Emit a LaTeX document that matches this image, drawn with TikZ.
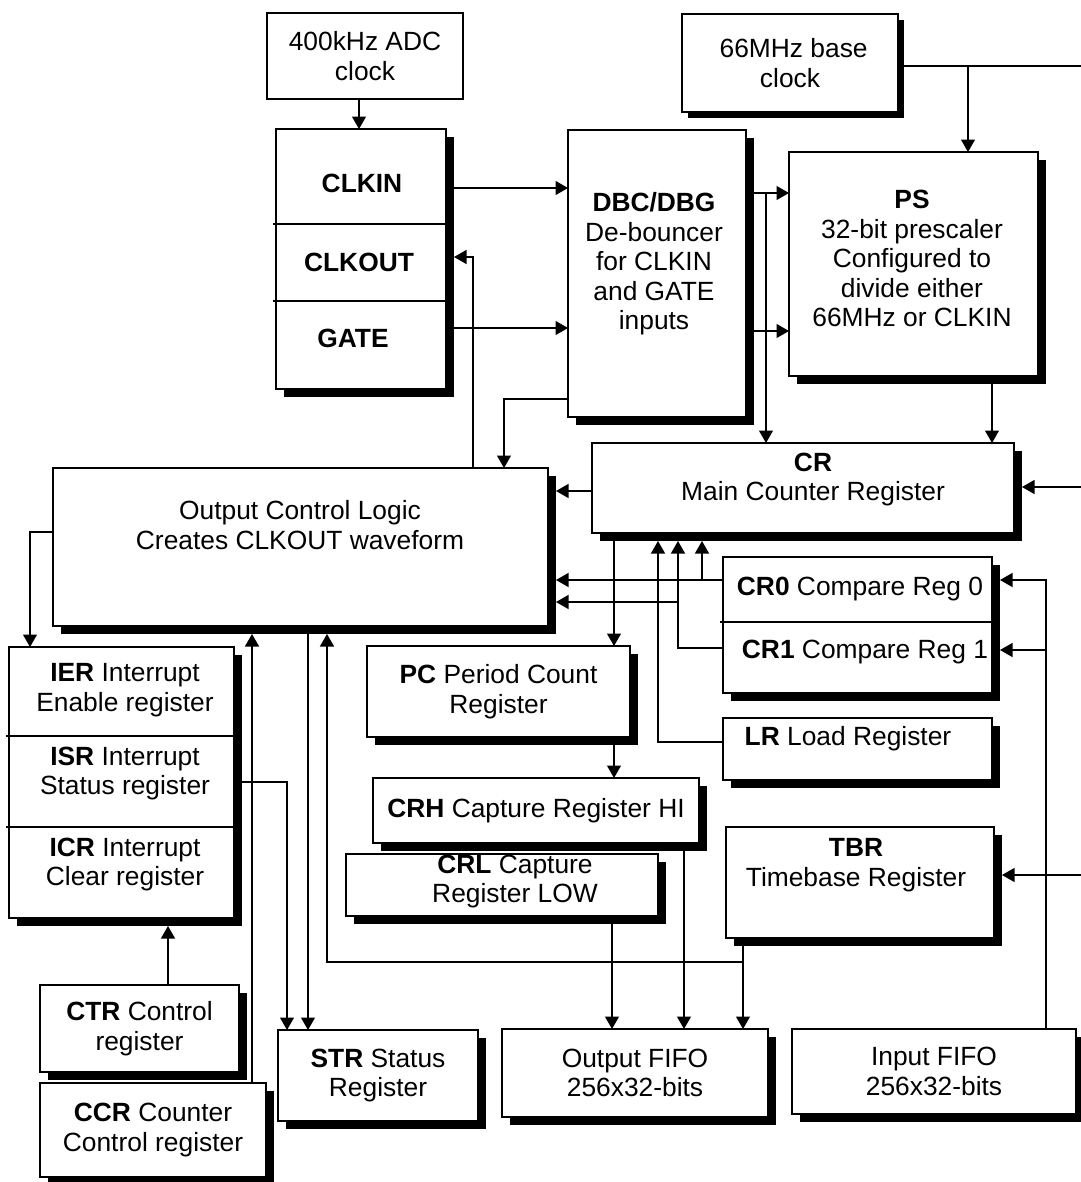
\documentclass[tikz,border=0pt]{standalone}
\usepackage{fontspec}
\setmainfont{Liberation Sans}
\usetikzlibrary{arrows.meta,shadows}

\begin{document}
\begin{tikzpicture}[x=0.2mm, y=-0.2mm, >={Triangle[length=2.5mm,width=2.8mm]},
  line width=0.7pt, font=\fontsize{15}{16.8}\selectfont,
  box/.style={draw, line width=0.9pt, fill=white, inner sep=0pt, outer sep=0pt, align=center,
    drop shadow={shadow xshift=#1, shadow yshift=-#1, opacity=1, fill=black}},
  box/.default=1.6mm,
  plain/.style={draw, line width=0.9pt, fill=white, inner sep=0pt, outer sep=0pt, align=center},
  sz/.style 2 args={minimum width=#1*0.2mm, minimum height=#2*0.2mm},
  txt/.style={inner sep=0pt, align=center},
  shad/.style={shorten >=1.6mm}]
  \useasboundingbox (0,0) rectangle (1081,1182);

  % clock inputs
  \node[plain, sz={196}{86}] (adc) at (365,56) {400kHz ADC\\clock};
  \node[box=1.1mm, sz={216}{98}] (mhz) at (790,63) {\ 66MHz base\\clock};
  \node[box, sz={170}{260}] (clk) at (361,259) {};
  \draw[line width=0.9pt] (clk.west |- 0,224) ++(-3,0) -- (clk.east |- 0,224);
  \draw[line width=0.9pt] (clk.west |- 0,301) ++(-3,0) -- (clk.east |- 0,301);
  \node[txt] (clkin) at (362,183) {\textbf{CLKIN}};
  \node[txt] (clkout) at (359,262) {\textbf{CLKOUT}};
  \node[txt] (gate) at (353,338) {\textbf{GATE}};
  \node[box, sz={178}{287}] (dbc) at (657,273.5) {};
  \node[txt] (dbc-t) at (654,264) {\textbf{DBC/DBG}\\De-bouncer\\for CLKIN\\and GATE\\inputs};
  \node[box, sz={249}{224}] (ps) at (913.5,264) {};
  \node[txt] (ps-t) at (912,258.5) {\textbf{PS}\\32-bit prescaler\\Configured to\\divide either\\66MHz or CLKIN};

  % counter and compare registers
  \node[box, sz={422}{90}] (cr) at (803,488) {};
  \node[txt] (cr-t) at (813,479.5) {\textbf{CR}\\Main Counter Register};
  \node[box, sz={495}{158}] (ocl) at (300.5,547) {};
  \node[txt] (ocl-t) at (300,525) {Output Control Logic\\Creates CLKOUT waveform};
  \node[box, sz={269}{136}] (cmp) at (857.5,625) {};
  \draw[line width=0.9pt] (cmp.west |- 0,622) ++(-3,0) -- (cmp.east |- 0,622);
  \node[txt] (cr0) at (860,589) {\textbf{CR0} Compare Reg 0};
  \node[txt] (cr1) at (865,652) {\textbf{CR1} Compare Reg 1};
  \node[box, sz={263}{91}] (pc) at (498.5,691.5) {\textbf{PC} Period Count\\Register};
  \node[box, sz={269}{62}] (lr) at (857.5,749) {};
  \node[txt] (lr-t) at (848,739) {\textbf{LR} Load Register};
  \node[box, sz={326}{65}] (crh) at (536,810.5) {\textbf{CRH} Capture Register HI};
  \node[box, sz={312}{62}] (crl) at (502,885) {};
  \node[txt] (crl-t) at (515,881.5) {\textbf{CRL} Capture\\Register LOW};
  \node[box, sz={268}{111}] (tbr) at (860,882.5) {};
  \node[txt] (tbr-t) at (856,865) {\textbf{TBR}\\Timebase Register};

  % interrupt and control registers
  \node[box, sz={225}{271}] (ier) at (121.5,782.5) {};
  \draw[line width=0.9pt] (ier.west |- 0,736) ++(-3,0) -- (ier.east |- 0,736);
  \draw[line width=0.9pt] (ier.west |- 0,827) ++(-3,0) -- (ier.east |- 0,827);
  \node[txt] (ier-t) at (125,690) {\textbf{IER} Interrupt\\Enable register};
  \node[txt] (isr-t) at (125,773.5) {\textbf{ISR} Interrupt\\Status register};
  \node[txt] (icr-t) at (125,864.5) {\textbf{ICR} Interrupt\\Clear register};
  \node[box, sz={199}{87}] (ctr) at (139.5,1028.5) {\textbf{CTR} Control\\register};
  \node[box, sz={226}{94}] (ccr) at (153,1130) {\textbf{CCR} Counter\\Control register};
  \node[box, sz={200}{91}] (str) at (378,1075.5) {\textbf{STR} Status\\Register};
  \node[box, sz={266}{88}] (ofifo) at (635,1073) {Output FIFO\\256x32-bits};
  \node[box, sz={284}{85}] (ififo) at (934,1071.5) {Input FIFO\\256x32-bits};

  % free ends and junctions
  \coordinate (bus-top) at (1081,66);
  \coordinate (bus-cr) at (1081,487);
  \coordinate (bus-tbr) at (1081,875);
  \coordinate (j-mhz) at (968,66);
  \coordinate (j-dbc) at (766,193);
  \coordinate (j-cr0) at (702,580);
  \coordinate (j-cr1) at (678,602);
  \coordinate (j-fifo) at (1046,650);
  \coordinate (j-tbr) at (743,962);

  % connectors
  \draw[->] (adc.south -| 359,0) -- (clk.north -| 359,0);
  \draw[->] (clk.east |- 0,188) -- (dbc.west |- 0,188);
  \draw[->] (clk.east |- 0,328) -- (dbc.west |- 0,328);
  \draw[->, shad] (ocl.north -| 473,0) |- (clk.east |- 0,257);
  \draw[->] (dbc.west |- 0,399) -| (ocl.north -| 504,0);
  \draw (mhz.east |- bus-top) -- (bus-top);
  \draw[->] (j-mhz) -- (ps.north -| j-mhz);
  \draw[->] (dbc.east |- 0,193) -- (ps.west |- 0,193);
  \draw[->] (dbc.east |- 0,331) -- (ps.west |- 0,331);
  \draw[->] (j-dbc) -- (cr.north -| j-dbc);
  \draw[->] (ps.south -| 992,0) -- (cr.north -| 992,0);
  \draw[->, shad] (bus-cr) -- (cr.east |- bus-cr);
  \draw[->, shad] (cr.west |- 0,491) -- (ocl.east |- 0,491);
  \draw[->, shad] (cmp.west |- j-cr0) -- (ocl.east |- j-cr0);
  \draw[->, shad] (j-cr0) -- (cr.south -| j-cr0);
  \draw[->, shad] (cmp.west |- 0,648) -| (cr.south -| j-cr1);
  \draw[->, shad] (j-cr1) -- (ocl.east |- j-cr1);
  \draw[->, shad] (lr.west |- 0,742) -| (cr.south -| 658,0);
  \draw[->, shad] (ififo.north -| j-fifo) |- (cmp.east |- 0,580);
  \draw[->, shad] (j-fifo) -- (cmp.east |- j-fifo);
  \draw[->, shad] (bus-tbr) -- (tbr.east |- bus-tbr);
  \draw[->] (cr.south -| 614,0) -- (pc.north -| 614,0);
  \draw[->] (pc.south -| 614,0) -- (crh.north -| 614,0);
  \draw[->] (crl.south -| 612,0) -- (ofifo.north -| 612,0);
  \draw[->] (crh.south -| 684,0) -- (ofifo.north -| 684,0);
  \draw[->] (tbr.south -| j-tbr) -- (ofifo.north -| j-tbr);
  \draw[->, shad] (j-tbr) -| (ocl.south -| 327,0);
  \draw[->] (ocl.west |- 0,532) -| (ier.north -| 30,0);
  \draw[->] (ocl.south -| 308,0) -- (str.north -| 308,0);
  \draw[->] (ier.east |- 0,782) -| (str.north -| 287,0);
  \draw[->, shad] (ctr.north -| 168,0) -- (ier.south -| 168,0);
  \draw[->, shad] (ccr.north -| 252,0) -- (ocl.south -| 252,0);
\end{tikzpicture}
\end{document}
